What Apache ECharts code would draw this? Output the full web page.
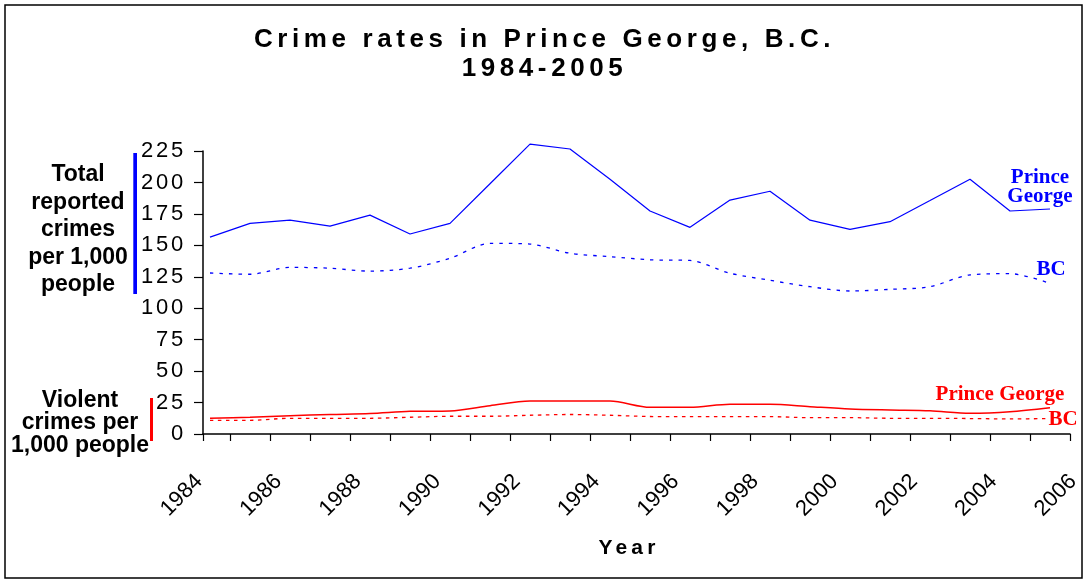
<!DOCTYPE html>
<html>
<head>
<meta charset="utf-8">
<script src="https://cdn.jsdelivr.net/npm/echarts@6/dist/echarts.min.js"></script>
<style>
html,body{margin:0;padding:0;background:#fff;}
#c{width:1089px;height:585px;}
</style>
</head>
<body>
<div id="c"></div>
<script>
// Letter-spacing for the widely spaced texts (title, y labels, axis name)
(function () {
  var P = window.CanvasRenderingContext2D && CanvasRenderingContext2D.prototype;
  if (!P || !('letterSpacing' in P)) return;
  var table = { b26: 4.6, n22: 2.8, b21: 4.2 };
  function apply(ctx) {
    var f = String(ctx.font), s = 0;
    if (/Arial/.test(f)) {
      var m = f.match(/(\d+(?:\.\d+)?)px/);
      var bold = /bold|\b[6-9]00\b/.test(f);
      var key = (bold ? 'b' : 'n') + (m ? Math.round(+m[1]) : '');
      s = table[key] || 0;
    }
    var v = s + 'px';
    if (ctx.letterSpacing !== v) ctx.letterSpacing = v;
  }
  var ft = P.fillText, st = P.strokeText, mt = P.measureText;
  P.fillText = function () { apply(this); return ft.apply(this, arguments); };
  P.strokeText = function () { apply(this); return st.apply(this, arguments); };
  P.measureText = function () { apply(this); return mt.apply(this, arguments); };
})();

const years = [1984, 1985, 1986, 1987, 1988, 1989, 1990, 1991, 1992, 1993, 1994,
               1995, 1996, 1997, 1998, 1999, 2000, 2001, 2002, 2003, 2004, 2005];
const tickLabels = ['1984', '1986', '1988', '1990', '1992', '1994',
                    '1996', '1998', '2000', '2002', '2004', '2006'];
const pgTotal   = [156.5, 167.5, 170, 165.3, 174, 159, 167.5, 199, 230.5, 226.6, 202.5,
                   177.3, 164.3, 186, 193, 170, 162.7, 168.8, 185.6, 202.5, 177.3, 178.9];
const bcTotal   = [128, 127, 132.5, 131.8, 129.5, 131.8, 139.7, 151.6, 151, 143.7, 141,
                   138.5, 138, 127.8, 122.2, 117.1, 113.7, 115, 117.1, 126.5, 127.5, 119.8];
const pgViolent = [12.5, 13.3, 14.5, 15.5, 16.3, 18, 18.3, 22.5, 26.2, 26.2, 26.2,
                   21.2, 21.2, 23.6, 23.6, 21.7, 19.9, 19.1, 18.5, 16.5, 17.7, 20.9];
const bcViolent = [10.9, 10.9, 12.5, 12.5, 12.5, 13.3, 14.1, 14.1, 14.9, 15.5, 14.9,
                   13.9, 13.8, 13.8, 13.8, 13.0, 13.0, 12.5, 12.5, 12.3, 12.0, 12.3];

const FONT = 'Liberation Sans';
const SPACED = 'Liberation Sans, Arial';
const SERIF = 'Liberation Serif';

const tickValues = [1983.825].concat(years.map(function (y) { return y + 0.5; }));
function pairs(arr) { return years.map(function (y, i) { return [y, arr[i]]; }); }

const chart = echarts.init(document.getElementById('c'), null, { renderer: 'canvas' });

const option = {
  animation: false,
  backgroundColor: '#ffffff',
  title: {
    text: 'Crime rates in Prince George, B.C.\n1984-2005',
    left: 'center',
    top: 26,
    padding: 0,
    textStyle: { fontFamily: SPACED, fontSize: 26, fontWeight: 'bold', color: '#000', lineHeight: 28.5 }
  },
  grid: [
    { left: 203, top: 151, width: 867, height: 283 },
    { left: 199, top: 151, width: 874, height: 283 }
  ],
  xAxis: [
    {
      type: 'value', gridIndex: 0, min: 1983.825, max: 2005.5,
      axisLine: { show: true, onZero: false, lineStyle: { color: '#000', width: 1.5 } },
      axisTick: { show: true, length: 7, customValues: tickValues, lineStyle: { color: '#000', width: 1.2 } },
      axisLabel: { show: false },
      splitLine: { show: false }
    },
    {
      type: 'value', gridIndex: 1, min: 0, max: 11, interval: 1,
      axisLine: { show: false }, axisTick: { show: false }, splitLine: { show: false },
      axisLabel: {
        rotate: 45, margin: 44, color: '#000', fontFamily: FONT, fontSize: 22,
        formatter: function (v) { return tickLabels[Math.round(v)] || ''; }
      }
    }
  ],
  yAxis: [
    {
      type: 'value', gridIndex: 0, min: 0, max: 225, interval: 25,
      axisLine: { show: true, lineStyle: { color: '#000', width: 1.5 } },
      axisTick: { show: true, length: 9, lineStyle: { color: '#000', width: 1.2 } },
      axisLabel: { margin: 17, color: '#000', fontFamily: SPACED, fontSize: 22 },
      splitLine: { show: false }
    },
    { type: 'value', gridIndex: 1, min: 0, max: 225, show: false }
  ],
  series: [
    {
      name: 'Prince George total', type: 'line', xAxisIndex: 0, yAxisIndex: 0,
      data: pairs(pgTotal), symbol: 'none', silent: true, clip: false,
      lineStyle: { color: '#0000ff', width: 1.2 }, itemStyle: { color: '#0000ff' }
    },
    {
      name: 'BC total', type: 'line', xAxisIndex: 0, yAxisIndex: 0,
      data: pairs(bcTotal), symbol: 'none', silent: true, smooth: 0.3, clip: false,
      lineStyle: { color: '#0000ff', width: 1.3, type: [3.5, 6] }, itemStyle: { color: '#0000ff' }
    },
    {
      name: 'Prince George violent', type: 'line', xAxisIndex: 0, yAxisIndex: 0,
      data: pairs(pgViolent), symbol: 'none', silent: true, smooth: 0.3, clip: false,
      lineStyle: { color: '#ff0000', width: 1.5 }, itemStyle: { color: '#ff0000' }
    },
    {
      name: 'BC violent', type: 'line', xAxisIndex: 0, yAxisIndex: 0,
      data: pairs(bcViolent), symbol: 'none', silent: true, smooth: 0.3, clip: false,
      lineStyle: { color: '#ff0000', width: 1.3, type: [3.5, 4.5] }, itemStyle: { color: '#ff0000' }
    }
  ],
  graphic: [
    { type: 'rect', shape: { x: 5, y: 5, width: 1077, height: 573 }, style: { fill: 'none', stroke: '#000', lineWidth: 1.5 }, silent: true },
    { type: 'rect', shape: { x: 133.3, y: 153, width: 3.7, height: 141 }, style: { fill: '#0000ff' }, silent: true },
    { type: 'rect', shape: { x: 150, y: 398, width: 3, height: 43 }, style: { fill: '#ff0000' }, silent: true },
    { type: 'text', silent: true, style: {
        text: 'Total\nreported\ncrimes\nper 1,000\npeople', x: 78, y: 161,
        fontFamily: FONT, fontSize: 23, fontWeight: 'bold', fill: '#000', lineHeight: 27.5,
        textAlign: 'center', align: 'center', textVerticalAlign: 'top', verticalAlign: 'top' } },
    { type: 'text', silent: true, style: {
        text: 'Violent\ncrimes per\n1,000 people', x: 80, y: 389,
        fontFamily: FONT, fontSize: 23, fontWeight: 'bold', fill: '#000', lineHeight: 22.5,
        textAlign: 'center', align: 'center', textVerticalAlign: 'top', verticalAlign: 'top' } },
    { type: 'text', silent: true, style: {
        text: 'Prince\nGeorge', x: 1040, y: 168,
        fontFamily: SERIF, fontSize: 21, fontWeight: 'bold', fill: '#0000ff', lineHeight: 19,
        textAlign: 'center', align: 'center', textVerticalAlign: 'top', verticalAlign: 'top' } },
    { type: 'text', silent: true, style: {
        text: 'BC', x: 1051, y: 270,
        fontFamily: SERIF, fontSize: 21, fontWeight: 'bold', fill: '#0000ff',
        textAlign: 'center', align: 'center', textVerticalAlign: 'middle', verticalAlign: 'middle' } },
    { type: 'text', silent: true, style: {
        text: 'Prince George', x: 1000, y: 395,
        fontFamily: SERIF, fontSize: 21, fontWeight: 'bold', fill: '#ff0000',
        textAlign: 'center', align: 'center', textVerticalAlign: 'middle', verticalAlign: 'middle' } },
    { type: 'text', silent: true, style: {
        text: 'BC', x: 1063, y: 420,
        fontFamily: SERIF, fontSize: 21, fontWeight: 'bold', fill: '#ff0000',
        textAlign: 'center', align: 'center', textVerticalAlign: 'middle', verticalAlign: 'middle' } },
    { type: 'text', silent: true, style: {
        text: 'Year', x: 629, y: 548,
        fontFamily: SPACED, fontSize: 21, fontWeight: 'bold', fill: '#000',
        textAlign: 'center', align: 'center', textVerticalAlign: 'middle', verticalAlign: 'middle' } }
  ]
};
chart.setOption(option);
</script>
</body>
</html>
